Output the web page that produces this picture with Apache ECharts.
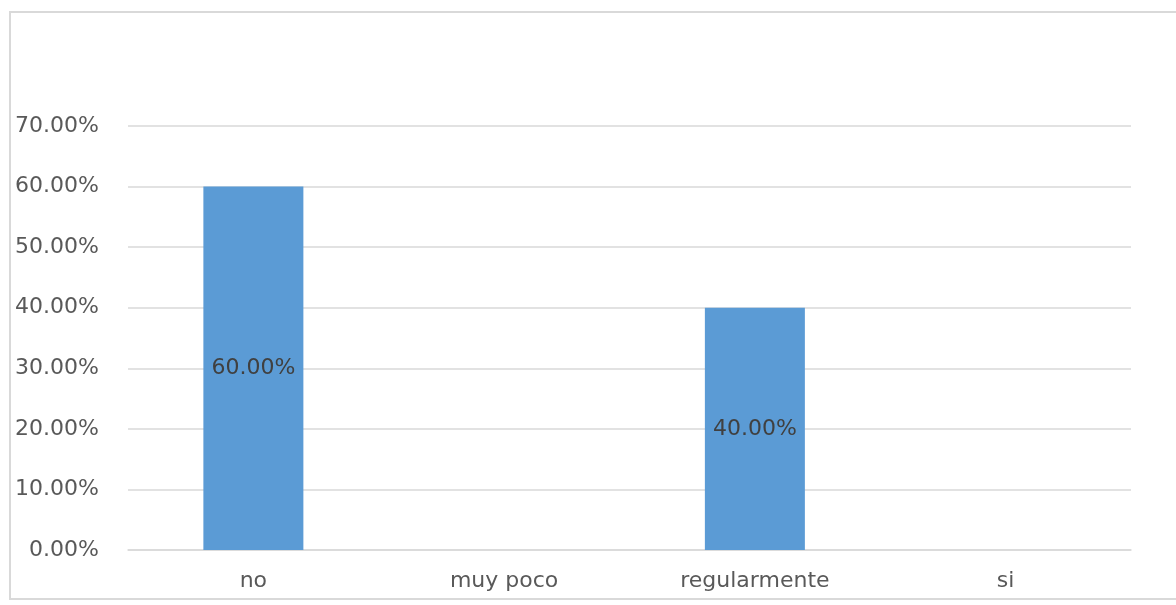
<!DOCTYPE html>
<html>
<head>
<meta charset="utf-8">
<title>Chart</title>
<script src="https://cdn.jsdelivr.net/npm/echarts@6/dist/echarts.min.js"></script>
<style>
  html, body { margin: 0; padding: 0; background: #ffffff; }
  #chart { width: 1176px; height: 605px; }
</style>
</head>
<body>
<div id="chart"></div>
<script>
// Response categories and their shares (percent)
const categories = ['no', 'muy poco', 'regularmente', 'si'];
const shares = [60, 0, 40, 0];
// Value axis range (percent)
const axisMin = 0;
const axisMax = 70;
const axisStep = 10;

const fontFamily = '"DejaVu Sans", "Open Sans", sans-serif';
const pct = v => Number(v).toFixed(2) + '%';

const chart = echarts.init(document.getElementById('chart'), null, { renderer: 'canvas' });

chart.setOption({
  backgroundColor: '#ffffff',
  animation: false,
  graphic: [{
    type: 'rect',
    silent: true,
    shape: { x: 10, y: 12, width: 1200, height: 587 },
    style: { fill: null, stroke: '#d9d9d9', lineWidth: 2 }
  }],
  grid: { left: 128, right: 45, top: 126, bottom: 55, containLabel: false },
  xAxis: {
    type: 'category',
    data: categories,
    axisLine: { show: true, lineStyle: { color: '#d9d9d9', width: 1.5 } },
    axisTick: { show: false },
    axisLabel: {
      color: '#595959',
      fontFamily: fontFamily,
      fontSize: 22,
      margin: 20
    }
  },
  yAxis: {
    type: 'value',
    min: axisMin,
    max: axisMax,
    interval: axisStep,
    axisLine: { show: false },
    axisTick: { show: false },
    splitLine: { show: true, lineStyle: { color: '#d9d9d9', width: 1.5 } },
    axisLabel: {
      color: '#595959',
      fontFamily: fontFamily,
      fontSize: 22,
      margin: 29,
      formatter: v => pct(v)
    }
  },
  series: [{
    type: 'bar',
    data: shares,
    barWidth: 100,
    itemStyle: { color: '#5b9bd5' },
    label: {
      show: true,
      position: 'inside',
      color: '#404040',
      fontFamily: fontFamily,
      fontSize: 22,
      formatter: p => (p.value ? pct(p.value) : '')
    }
  }]
});
</script>
</body>
</html>
